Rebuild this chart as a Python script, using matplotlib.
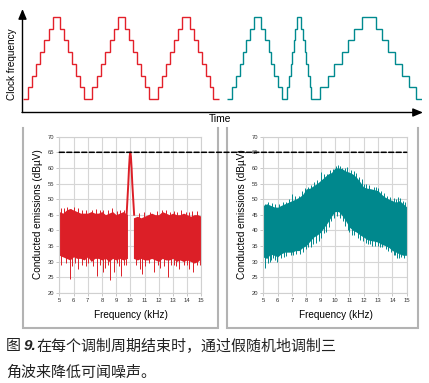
import numpy as np
import matplotlib
matplotlib.use("Agg")
import matplotlib.pyplot as plt
from matplotlib.patches import ConnectionPatch

plt.rcParams['font.family'] = ['Liberation Sans', 'DejaVu Sans']

# ---------------- data ----------------
# top: clock frequency staircase (time units from the origin, step level 0..7)
red_t = [1, 6, 10, 14, 18, 22, 27, 31, 38, 42, 46, 50, 54, 58, 62,
         70, 75, 79, 83, 88, 92, 96, 103, 107, 111, 115, 119, 123, 127,
         136, 140, 144, 148, 152, 156, 160, 168, 172, 176, 180, 184, 188, 191, 197]
red_lvl = [0, 1, 2, 3, 4, 5, 6, 7, 6, 5, 4, 3, 2, 1, 0,
           1, 2, 3, 4, 5, 6, 7, 6, 5, 4, 3, 2, 1, 0,
           1, 2, 3, 4, 5, 6, 7, 6, 5, 4, 3, 2, 1, 0]

teal_t = [205, 210, 214, 218, 221, 224, 228, 232,
          239.3, 242.7, 246.7, 249.3, 252.3, 256.3, 260.3,
          265.3, 267, 268.7, 270.3, 271.7, 273.3, 275.3,
          279.3, 281, 282.7, 284.3, 286, 287.7, 289.3,
          298.3, 305.7, 312.3, 319.7, 325.7, 332.3, 339.7,
          353.7, 359.7, 366.3, 373, 380.3, 387, 393.7, 400.3]
teal_lvl = red_lvl

# bottom left: fixed frequency spectrum (kHz, dBuV)
red_f1 = [5.0, 5.25, 5.5, 5.75, 6.0, 6.25, 6.5, 6.75, 7.0, 7.25,
          7.5, 7.75, 8.0, 8.25, 8.5, 8.75, 9.0, 9.25, 9.5, 9.8]
red_hi1 = [46, 45.5, 46.5, 47, 46.5, 46, 45.5, 45.5, 45.5, 46,
           45.5, 45.5, 46, 45, 45.5, 46, 45, 45.5, 46, 45]
red_lo1 = [32, 31.5, 31, 30.5, 31.5, 31, 31, 30.5, 31.5, 30,
           31, 31, 30.5, 31, 30, 31, 30.5, 31, 30.5, 31]
red_f2 = [10.22, 10.5, 10.75, 11.0, 11.25, 11.5, 11.75, 12.0, 12.25, 12.5,
          12.75, 13.0, 13.25, 13.5, 13.75, 14.0, 14.25, 14.5, 14.75, 15.0]
red_hi2 = [44, 44.5, 44, 44.5, 45, 45.5, 45, 45, 46, 45.5,
           45, 45.5, 45, 45, 45.5, 45, 44.5, 45, 45, 44.5]
red_lo2 = [31, 30.5, 31, 30.5, 30.5, 31, 30.5, 30, 31, 30.5,
           30.5, 31, 30, 30.5, 30, 30.5, 30, 29.5, 30, 31]
red_peak_f = [9.74, 9.86, 9.91, 9.96, 10.0, 10.04, 10.09, 10.14, 10.27]
red_peak_db = [45, 55, 60, 63.8, 65, 63.8, 60, 55, 45]
red_dips_f = [5.15, 5.45, 5.72, 5.9, 6.1, 6.35, 6.6, 6.85, 7.05, 7.35, 7.62, 7.85, 8.08,
              8.25, 8.45, 8.58, 8.88, 9.05, 9.2, 9.35, 9.55, 9.72,
              10.4, 10.7, 10.85, 11.05, 11.35, 11.7, 11.95, 12.1, 12.4, 12.65, 12.9,
              13.05, 13.25, 13.45, 13.75, 14.0, 14.15, 14.45, 14.7, 14.9]
red_dips_db = [29, 29.5, 24.5, 28.5, 29.5, 27.5, 29, 28.5, 29.5, 28.5, 25.5, 29, 26.5,
               28, 29, 24, 26.5, 29.5, 28.5, 25.5, 29, 29,
               29, 27.5, 26, 28.5, 29.5, 26.5, 29, 28, 28.5, 25, 29,
               29, 28.5, 27.5, 29, 28.8, 27.5, 26.5, 29, 29]
red_tops_f = [5.1, 5.3, 5.55, 5.8, 6.05, 6.3, 6.6, 6.9, 7.3, 7.6, 7.9, 8.1, 8.4, 8.7,
              9.05, 9.3, 9.55, 10.6, 10.95, 11.4, 11.9, 12.25, 12.5, 12.8, 13.1, 13.3,
              13.6, 13.9, 14.1, 14.35, 14.7]
red_tops_db = [47, 47, 47.5, 46.8, 47.5, 47, 46.5, 46.5, 46.5, 46.8, 46.5, 46.5, 46.5, 47,
               46.3, 46.5, 46.5, 45.5, 45.8, 46, 46.2, 46.5, 46.6, 46, 46.3, 46,
               46.5, 46, 46, 46.2, 46.3]

# bottom right: spread spectrum
teal_f = [5.0, 5.25, 5.5, 5.75, 6.0, 6.25, 6.5, 6.75, 7.0, 7.25, 7.5, 7.75, 8.0, 8.25,
          8.5, 8.75, 9.0, 9.25, 9.5, 9.75, 10.0, 10.25, 10.5, 10.75, 11.0, 11.25, 11.5,
          11.75, 12.0, 12.25, 12.5, 12.75, 13.0, 13.25, 13.5, 13.75, 14.0, 14.25, 14.5,
          14.75, 15.0]
teal_hi = [48, 48.5, 48, 47.5, 47.4, 48, 48.5, 49, 49.5, 50, 50.6, 51.5, 53.3, 53.5,
           54.3, 55, 56, 57, 58, 58.5, 60, 60, 59.7, 59, 58.6, 58, 57, 55.5, 53.8,
           53.5, 53.3, 53, 52.7, 51.5, 50.6, 50, 49.5, 49, 49.5, 48.5, 47.5]
teal_lo = [31.4, 31, 32.4, 32, 31.5, 32.5, 33, 33, 33, 33.5, 33.5, 34.5, 35.1, 36.5,
           37.8, 38.5, 39.4, 41, 42.6, 44.5, 46, 46, 44.7, 43, 41, 40, 39.4, 38.5, 37.8,
           37, 36.7, 36.5, 36.2, 35.5, 35.1, 34.5, 33.5, 33, 32.4, 32, 32]
teal_dips_f = [5.15, 5.3, 5.45, 5.55, 5.7, 5.85, 5.95, 6.2, 6.45, 6.6, 6.9, 7.1, 7.3,
               7.55, 7.75, 7.95, 8.15, 8.3, 8.45, 8.65, 8.85, 9.05, 9.2, 9.35, 9.55,
               9.75, 9.9, 10.15, 10.35, 10.55, 10.7, 10.9, 11.0, 11.2, 11.35, 11.6,
               11.75, 11.95, 12.15, 12.3, 12.45, 12.6, 12.8, 13.0, 13.15, 13.3, 13.55,
               13.7, 13.9, 14.1, 14.2, 14.35, 14.45, 14.6, 14.8, 14.95]
teal_dips_db = [28, 29.5, 30, 30.5, 31, 30.5, 30, 31, 31.5, 31.8, 32, 32, 32.5,
                32.5, 33, 34, 34.5, 34.5, 35.5, 36, 36.5, 37.5, 39, 39.5, 41,
                43, 44, 44.5, 44, 43, 41.5, 40, 39.5, 38.5, 38.5, 37.5,
                37, 36.5, 36, 35.5, 35.5, 35, 35, 35, 34.5, 34.5, 34,
                33.5, 33, 32, 32, 31, 31, 31.5, 31, 32.5]
teal_tops_f = [5.1, 5.35, 5.6, 5.8, 6.1, 6.35, 6.55, 6.8, 7.0, 7.2, 7.5, 7.7, 7.9,
               8.1, 8.3, 8.55, 8.75, 9.0, 9.2, 9.45, 9.65, 9.85, 10.05, 10.2, 10.35,
               10.5, 10.7, 10.85, 11.1, 11.3, 11.45, 11.7, 11.85, 12.0, 12.15, 12.4,
               12.7, 12.85, 13.0, 13.2, 13.45, 13.65, 13.85, 14.1, 14.25, 14.4, 14.55,
               14.75, 14.9]
teal_tops_db = [48.5, 49, 48.8, 48.5, 48.3, 49, 49, 50, 51.5, 51, 51, 52.5, 53.5,
                54, 54.5, 55.5, 56, 58.8, 58, 58, 59.3, 59.5, 60.7, 61, 60.5,
                60, 60, 60.2, 59.3, 59, 58.5, 57, 56.5, 55, 55, 54.5,
                54, 54, 53.5, 52.5, 52, 51, 50.8, 50.5, 50, 50.7, 50.5,
                49.5, 49]

limit_db = 65
caption1 = "在每个调制周期结束时，通过假随机地调制三"
caption2 = "角波来降低可闻噪声。"

RED = '#dc1f27'
TEAL = '#00888d'
W, H = 429, 383

fig = plt.figure(figsize=(W / 100, H / 100), dpi=100)

# overlay in pixel coordinates for frames, arrows and caption
ov = fig.add_axes([0, 0, 1, 1])
ov.set_xlim(0, W)
ov.set_ylim(H, 0)
ov.axis('off')

def pbox(x0, y0, w, h):
    return [x0 / W, 1 - (y0 + h) / H, w / W, h / H]

# ---- top staircase ----
top = fig.add_axes(pbox(22, 10, 400, 102))
top.set_xlim(0, 400)
top.set_ylim(-1.11, 7.6)
top.axis('off')
top.stairs(red_lvl, red_t, baseline=None, color='#e3202a', lw=1.0)
top.stairs(teal_lvl, teal_t, baseline=None, color='#008a8f', lw=1.0)

arrow = dict(arrowstyle='-|>,head_length=0.6,head_width=0.25', color='k',
             lw=1.0, shrinkA=0, shrinkB=0)
ov.annotate('', xy=(22.5, 9), xytext=(22.5, 112.5), arrowprops=arrow)
ov.annotate('', xy=(423, 112.5), xytext=(22, 112.5), arrowprops=arrow)
ov.text(12, 64, 'Clock frequency', rotation=90, ha='center', va='center', fontsize=7.2)
ov.text(220, 119, 'Time', ha='center', va='center', fontsize=7.4)

# ---- grey frames (open at top) ----
for x0, x1 in [(22.7, 218), (227, 418)]:
    ov.plot([x0, x0, x1, x1], [128, 328, 328, 128], color='#b3b3b3', lw=1.5,
            solid_joinstyle='miter')

# ---- spectra ----
def setup(ax):
    ax.set_xlim(5, 15)
    ax.set_ylim(20, 70)
    ax.set_xticks(range(5, 16))
    ax.set_yticks(range(20, 71, 5))
    ax.grid(True, color='#d6d6d6', lw=0.8)
    ax.set_axisbelow(True)
    for s in ax.spines.values():
        s.set_color('#d0d0d0')
        s.set_linewidth(0.8)
    ax.tick_params(length=2, width=0.5, color='#b0b0b0', labelsize=4.2,
                   labelcolor='#333333', pad=1.5)
    ax.text(0.505, -0.143, 'Frequency (kHz)', transform=ax.transAxes,
            ha='center', va='center', fontsize=7.2)
    ax.text(-0.152, 0.505, 'Conducted emissions (dBµV)', transform=ax.transAxes,
            rotation=90, ha='center', va='center', fontsize=7.2)

def spikes(ax, f, db, env_f, env, color, sign):
    f = np.asarray(f)
    db = np.asarray(db)
    m = (f >= env_f[0]) & (f <= env_f[-1])
    base = np.interp(f[m], env_f, env) + sign * 2
    ax.vlines(f[m], base, db[m], color=color, lw=0.7)

axl = fig.add_axes(pbox(59.3, 136.7, 142, 156))
setup(axl)
for f, lo, hi in [(red_f1, red_lo1, red_hi1), (red_f2, red_lo2, red_hi2)]:
    axl.fill_between(f, lo, hi, color=RED, lw=0)
    spikes(axl, red_dips_f, red_dips_db, f, lo, RED, 1)
    spikes(axl, red_tops_f, red_tops_db, f, hi, RED, -1)
axl.plot(red_peak_f, red_peak_db, color=RED, lw=1.4)

axr = fig.add_axes(pbox(263.3, 136.7, 143.4, 156))
setup(axr)
axr.fill_between(teal_f, teal_lo, teal_hi, color=TEAL, lw=0)
spikes(axr, teal_dips_f, teal_dips_db, teal_f, teal_lo, TEAL, 1)
spikes(axr, teal_tops_f, teal_tops_db, teal_f, teal_hi, TEAL, -1)

# dashed limit line across both panels
con = ConnectionPatch(xyA=(5, limit_db), coordsA='data', axesA=axl,
                      xyB=(15, limit_db), coordsB='data', axesB=axr,
                      color='k', lw=1.1, linestyle=(0, (3.3, 1.6)))
fig.add_artist(con)

# ---- caption ----
cjk = ['Noto Sans CJK SC', 'DejaVu Sans']
ov.text(6, 346, '图', family=cjk, fontsize=10.8, ha='left', va='center', color='#222222')
ov.text(24, 346, '9.', fontsize=11, fontweight='bold', fontstyle='italic',
        ha='left', va='center', color='#222222')
ov.text(36, 346, caption1, family=cjk, fontsize=10.8, ha='left', va='center', color='#222222')
ov.text(6, 373, caption2, family=cjk, fontsize=10.8, ha='left', va='center', color='#222222')

fig.savefig('out.png', dpi=100)
